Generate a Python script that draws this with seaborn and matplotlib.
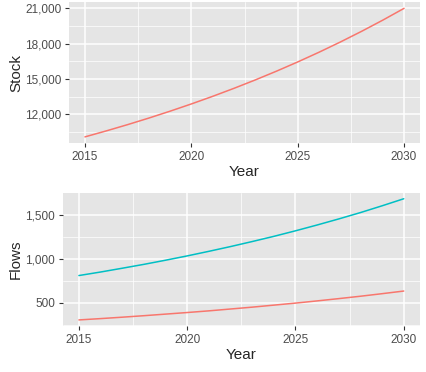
import matplotlib
matplotlib.use('Agg')
import matplotlib.pyplot as plt
from matplotlib.ticker import FuncFormatter, MultipleLocator
import pandas as pd
import seaborn as sns

# values
years = list(range(2015, 2031))
stock = [10100, 10605, 11135, 11692, 12277, 12891, 13535, 14212,
         14923, 15669, 16452, 17275, 18139, 19046, 19998, 20998]
inflow = [808, 848, 891, 935, 982, 1031, 1083, 1137,
          1194, 1253, 1316, 1382, 1451, 1523, 1600, 1680]
outflow = [304, 319, 335, 352, 370, 388, 407, 428,
           449, 472, 495, 520, 546, 573, 602, 632]

red = '#F8766D'
teal = '#00BFC4'

sns.set_theme(style='darkgrid', rc={
    'axes.facecolor': '#E5E5E5',
    'grid.color': 'white',
    'axes.edgecolor': '#E5E5E5',
})
plt.rcParams['font.family'] = ['Liberation Sans', 'DejaVu Sans']

stock_df = pd.DataFrame({'Year': years, 'Stock': stock})
flows_df = pd.DataFrame({
    'Year': years * 2,
    'Flows': outflow + inflow,
    'Type': ['Outflow'] * len(years) + ['Inflow'] * len(years),
})

fig = plt.figure(figsize=(4.27, 3.72), dpi=100)
ax1 = fig.add_axes([0.1616, 0.6148, 0.822, 0.38])
ax2 = fig.add_axes([0.1468, 0.1237, 0.8368, 0.3583])

sns.lineplot(data=stock_df, x='Year', y='Stock', color=red, lw=1.1, ax=ax1)
sns.lineplot(data=flows_df, x='Year', y='Flows', hue='Type',
             palette={'Outflow': red, 'Inflow': teal}, lw=1.1,
             legend=False, ax=ax2)


def expand(lo, hi):
    pad = (hi - lo) * 0.05
    return lo - pad, hi + pad


thousands = FuncFormatter(lambda v, p: f'{v:,.0f}')
setups = [
    (ax1, stock, 3000, 'Stock'),
    (ax2, outflow + inflow, 500, 'Flows'),
]
for ax, vals, step, label in setups:
    ax.set_xlim(*expand(min(years), max(years)))
    ax.set_ylim(*expand(min(vals), max(vals)))
    ax.xaxis.set_major_locator(MultipleLocator(5))
    ax.xaxis.set_minor_locator(MultipleLocator(2.5))
    ax.yaxis.set_major_locator(MultipleLocator(step))
    ax.yaxis.set_minor_locator(MultipleLocator(step / 2))
    ax.yaxis.set_major_formatter(thousands)
    ax.grid(which='major', color='white', lw=1.1)
    ax.grid(which='minor', color='white', lw=0.5)
    ax.tick_params(which='major', length=3, width=0.8, color='#333333',
                   labelcolor='#4D4D4D', labelsize=8.5, pad=2.5,
                   bottom=True, left=True)
    ax.tick_params(which='minor', length=0)
    ax.set_xlabel('Year', fontsize=11, labelpad=1.5)
    ax.set_ylabel(label, fontsize=11, labelpad=1.5)
    for s in ax.spines.values():
        s.set_visible(False)

fig.savefig('out.png', dpi=100)
